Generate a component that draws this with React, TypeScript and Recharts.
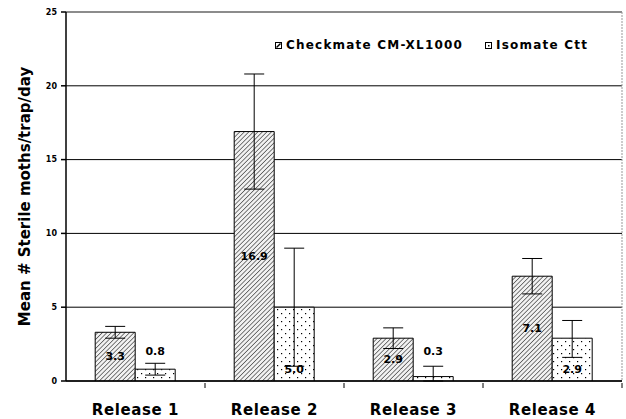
import React from 'react';
import {
  BarChart,
  Bar,
  XAxis,
  YAxis,
  CartesianGrid,
  ReferenceLine,
  ErrorBar,
  LabelList,
  Label,
} from 'recharts';

// values
const categories = ['Release 1', 'Release 2', 'Release 3', 'Release 4'];
const checkmate = [3.3, 16.9, 2.9, 7.1];
const isomate = [0.8, 5.0, 0.3, 2.9];
const checkmateErr = [0.4, 3.9, 0.7, 1.2];
const isomateErr: [number, number][] = [
  [0.4, 0.4],
  [4.0, 4.0],
  [0.3, 0.7],
  [1.3, 1.2],
];
const yTicks = [0, 5, 10, 15, 20, 25];
const seriesNames = ['Checkmate CM-XL1000', 'Isomate Ctt'];

const data = categories.map((name, i) => ({
  name,
  checkmate: checkmate[i],
  isomate: isomate[i],
  checkmateErr: checkmateErr[i],
  isomateErr: isomateErr[i],
}));

const FONT = '"DejaVu Sans", "Liberation Sans", Arial, sans-serif';

const CategoryTick = (props: any) => {
  const { x, y, payload } = props;
  const half = payload && payload.offset ? payload.offset : 69;
  return (
    <g>
      <line x1={x + half} x2={x + half} y1={y} y2={y + 5} stroke="#000" />
      <text
        x={x}
        y={y + 32}
        textAnchor="middle"
        fontFamily={FONT}
        fontWeight="bold"
        fontSize={15}
        letterSpacing={0.6}
        fill="#000"
      >
        {payload.value}
      </text>
    </g>
  );
};

const CheckmateLabel = (props: any) => {
  const { x, y, width, height, value } = props;
  return (
    <text
      x={x + width / 2}
      y={y + height / 2}
      textAnchor="middle"
      dominantBaseline="central"
      fontFamily={FONT}
      fontWeight="bold"
      fontSize={11}
      fill="#000"
    >
      {Number(value).toFixed(1)}
    </text>
  );
};

const IsomateLabel = (props: any) => {
  const { x, y, width, height, value } = props;
  const bottom = y + height;
  const baseline = height > 30 ? bottom - 8.5 : bottom - 26;
  return (
    <text
      x={x + width / 2}
      y={baseline}
      textAnchor="middle"
      fontFamily={FONT}
      fontWeight="bold"
      fontSize={11}
      fill="#000"
    >
      {Number(value).toFixed(1)}
    </text>
  );
};

const YTitle = (props: any) => {
  const { viewBox } = props;
  const cy = viewBox.y + viewBox.height / 2;
  return (
    <text
      x={25}
      y={cy}
      transform={`rotate(-90, 25, ${cy})`}
      textAnchor="middle"
      dominantBaseline="central"
      fontFamily={FONT}
      fontWeight="bold"
      fontSize={15}
      fill="#000"
    >
      Mean # Sterile moths/trap/day
    </text>
  );
};

const ChartLegend = () => (
  <div
    style={{
      position: 'absolute',
      top: 38,
      left: 275,
      display: 'flex',
      alignItems: 'center',
      fontFamily: FONT,
      fontWeight: 'bold',
      fontSize: 12,
      letterSpacing: 1.2,
      color: '#000',
      whiteSpace: 'nowrap',
    }}
  >
    <svg width={7} height={7} style={{ marginRight: 4 }}>
      <rect x={0.5} y={0.5} width={6} height={6} fill="#fff" stroke="#000" />
      <line x1={1.5} y1={5.5} x2={5.5} y2={1.5} stroke="#000" strokeWidth={1.5} />
    </svg>
    <span>{seriesNames[0]}</span>
    <svg width={7} height={7} style={{ marginLeft: 22, marginRight: 4 }}>
      <rect x={0.5} y={0.5} width={6} height={6} fill="#fff" stroke="#000" />
      <rect x={3} y={3} width={1.5} height={1.5} fill="#000" />
    </svg>
    <span>{seriesNames[1]}</span>
  </div>
);

export default function App() {
  return (
    <div style={{ position: 'relative', width: 626, height: 419, background: '#fff' }}>
      <style>{`body{margin:0}`}</style>
      <BarChart
        width={626}
        height={419}
        data={data}
        margin={{ top: 12, right: 0, left: 0, bottom: 0 }}
        barCategoryGap="21%"
        barGap={0}
      >
        <defs>
          <pattern
            id="hatch"
            width={3.2}
            height={3.2}
            patternUnits="userSpaceOnUse"
            patternTransform="rotate(45)"
          >
            <rect width={3.2} height={3.2} fill="#f2f2f2" />
            <line x1={0} y1={0} x2={0} y2={3.2} stroke="#000" strokeWidth={1} />
          </pattern>
          <pattern id="dots" width={8} height={8} patternUnits="userSpaceOnUse">
            <rect width={8} height={8} fill="#fff" />
            <rect x={1} y={1} width={1.2} height={1.2} fill="#000" />
            <rect x={5} y={5} width={1.2} height={1.2} fill="#000" />
          </pattern>
        </defs>
        <CartesianGrid vertical={false} stroke="#000" />
        <ReferenceLine y={25} stroke="#999" />
        <XAxis
          dataKey="name"
          stroke="#000"
          strokeWidth={1.5}
          tickLine={false}
          tickSize={0}
          tick={<CategoryTick />}
          height={38}
          interval={0}
        />
        <YAxis
          domain={[0, 25]}
          ticks={yTicks}
          width={66}
          stroke="#000"
          strokeWidth={1.5}
          tickSize={5}
          tickMargin={4}
          tick={{ fontFamily: FONT, fontWeight: 'bold', fontSize: 8, fill: '#000' }}
          allowDataOverflow
        >
          <Label content={<YTitle />} />
        </YAxis>
        <YAxis
          yAxisId="right"
          orientation="right"
          domain={[0, 25]}
          width={4}
          tick={false}
          tickLine={false}
          stroke="#999"
          strokeDasharray="2 1"
        />
        <Bar
          dataKey="checkmate"
          name={seriesNames[0]}
          fill="url(#hatch)"
          stroke="#000"
          strokeWidth={1}
          isAnimationActive={false}
        >
          <ErrorBar dataKey="checkmateErr" width={10} stroke="#000" strokeWidth={1} />
          <LabelList dataKey="checkmate" content={<CheckmateLabel />} />
        </Bar>
        <Bar
          dataKey="isomate"
          name={seriesNames[1]}
          fill="url(#dots)"
          stroke="#000"
          strokeWidth={1}
          isAnimationActive={false}
        >
          <ErrorBar dataKey="isomateErr" width={10} stroke="#000" strokeWidth={1} />
          <LabelList dataKey="isomate" content={<IsomateLabel />} />
        </Bar>
      </BarChart>
      <ChartLegend />
    </div>
  );
}
